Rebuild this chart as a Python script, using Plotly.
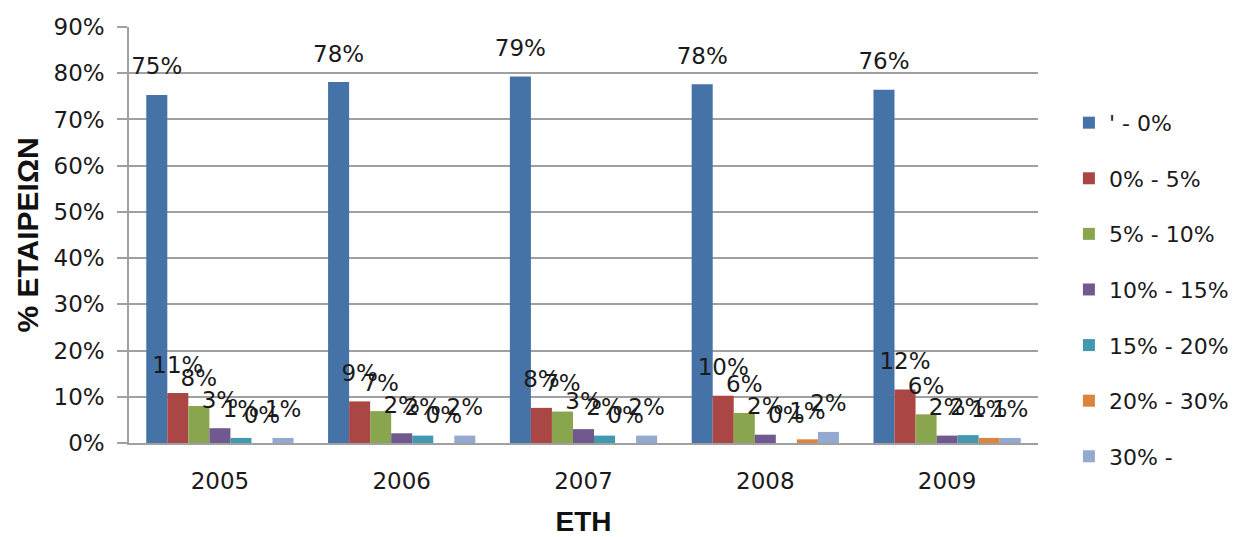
import plotly.graph_objects as go

years = ["2005", "2006", "2007", "2008", "2009"]
series_names = ["' - 0%", "0% - 5%", "5% - 10%", "10% - 15%", "15% - 20%", "20% - 30%", "30% -"]
s_neg_0 = [75.3, 78.1, 79.3, 77.6, 76.4]
s_0_5 = [10.8, 9.0, 7.6, 10.2, 11.6]
s_5_10 = [8.0, 6.9, 6.8, 6.5, 6.2]
s_10_15 = [3.2, 2.1, 3.0, 1.8, 1.6]
s_15_20 = [1.1, 1.6, 1.6, 0.0, 1.7]
s_20_30 = [0.0, 0.0, 0.0, 0.8, 1.1]
s_30_up = [1.1, 1.6, 1.6, 2.4, 1.1]
y_ticks = [0, 10, 20, 30, 40, 50, 60, 70, 80, 90]

series_values = [s_neg_0, s_0_5, s_5_10, s_10_15, s_15_20, s_20_30, s_30_up]
colors = ["#4572A7", "#AA4643", "#89A54E", "#71588F", "#4198AF", "#DB843D", "#93A9CF"]

FONT = "DejaVu Sans"
LABEL_PAD = 2.7  # label lift above the bar end, in axis units

fig = go.Figure()
for i, (name, vals, col) in enumerate(zip(series_names, series_values, colors)):
    fig.add_trace(go.Bar(
        x=years, y=vals, name=name, marker=dict(color=col, line=dict(width=0)),
        offsetgroup=str(i), legendgroup=str(i),
    ))
    fig.add_trace(go.Bar(
        x=years, y=[v + LABEL_PAD for v in vals], name=name,
        marker=dict(color="rgba(0,0,0,0)", line=dict(width=0)),
        offsetgroup=str(i), legendgroup=str(i), showlegend=False, hoverinfo="skip",
        text=[f"{v:.0f}%" for v in vals], textposition="outside",
        constraintext="none", cliponaxis=False,
        textfont=dict(family=FONT, size=23, color="#1a1a1a"),
    ))

fig.update_layout(
    width=1238, height=537,
    margin=dict(l=129, r=200, t=27, b=94, autoexpand=False),
    paper_bgcolor="white", plot_bgcolor="white",
    barmode="group", bargap=0.19, bargroupgap=0,
    font=dict(family=FONT, size=23, color="#1a1a1a"),
    legend=dict(
        x=1.034, xanchor="left", y=0.82, yanchor="top",
        font=dict(family=FONT, size=22, color="#1a1a1a"),
        tracegroupgap=24, traceorder="grouped",
    ),
    xaxis=dict(
        showline=True, linecolor="#a0a0a0", linewidth=1.5,
        ticks="", tickfont=dict(family=FONT, size=23, color="#1a1a1a"),
        ticklabelstandoff=17,
        title=dict(text="<b>ΕΤΗ</b>", font=dict(family="Liberation Sans", size=28, color="#111111"), standoff=30),
    ),
    yaxis=dict(
        range=[0, 90], tickvals=y_ticks, ticktext=[f"{t}%" for t in y_ticks],
        showgrid=True, gridcolor="#a0a0a0", gridwidth=1.5,
        showline=True, linecolor="#a0a0a0", linewidth=1.5,
        ticks="outside", ticklen=10, tickcolor="#a0a0a0", tickwidth=1.5,
        ticklabelstandoff=8,
        tickfont=dict(family=FONT, size=23, color="#1a1a1a"),
        zeroline=False,
        title=dict(text="<b>% ΕΤΑΙΡΕΙΩΝ</b>", font=dict(family="Liberation Sans", size=30, color="#111111"), standoff=6),
    ),
)

fig.write_html("out.html")
